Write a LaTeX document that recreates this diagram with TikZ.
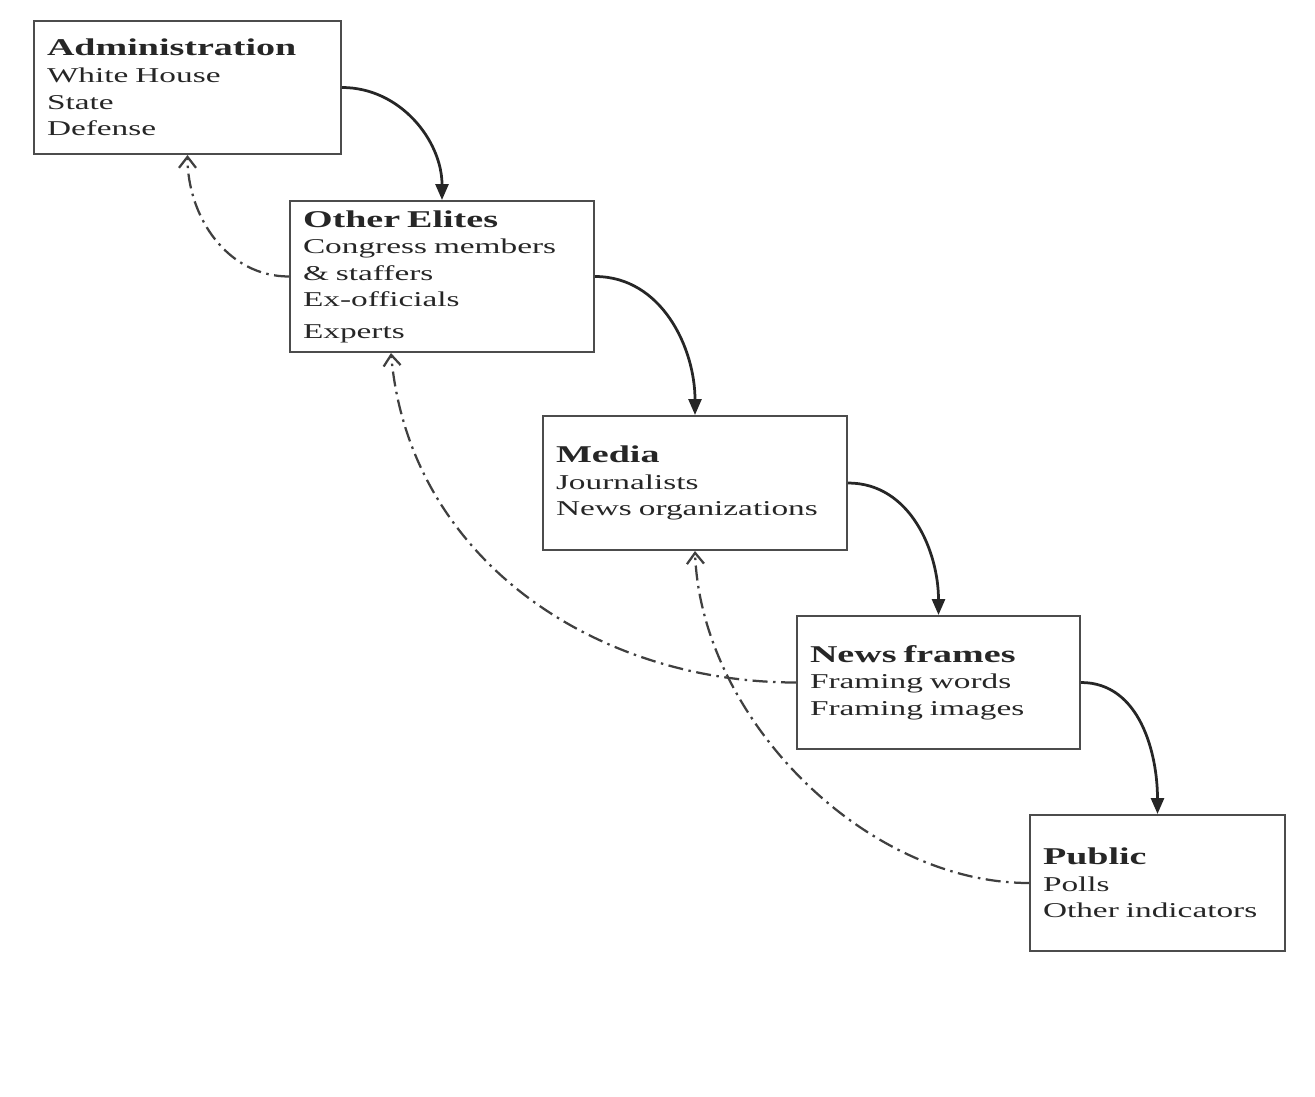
\documentclass[tikz,border=0pt]{standalone}
\usepackage{fontspec}
\setmainfont{Liberation Serif}[FakeStretch=1.58]
\usetikzlibrary{arrows.meta}

\newcommand{\boxtitle}[1]{{\fontsize{13.7}{15.1}\selectfont\bfseries #1}}

\tikzset{
    actor/.style={draw=black!70, line width=0.4mm, rectangle, anchor=north west,
        inner xsep=2.6mm, inner ysep=0pt, align=left, text=black!85,
        font=\fontsize{12}{15.1}\selectfont},
    flow/.style={-{Triangle[length=3.2mm,width=2.6mm]}, line width=0.55mm, black!85},
    feedback/.style={-{Straight Barb[length=2.2mm,width=3.4mm]}, line width=0.45mm, black!75,
        dash pattern=on 3mm off 1.1mm on 0.5mm off 1.1mm}
}

\begin{document}
\begin{tikzpicture}[x=0.2mm,y=-0.2mm]

    \useasboundingbox (0,0) rectangle (1315,1097);

    %% Boxes
    % Administration
    \node[actor, text width=56.2mm, minimum height=26.6mm] (admin) at (33,20)
        {\boxtitle{Administration}\\White House\\State\\Defense};

    % Other elites
    \node[actor, text width=55.6mm, minimum height=30.2mm] (elites) at (289,200)
        {\boxtitle{Other Elites}\\Congress members\\\& staffers\\Ex-officials\\[1mm]Experts};

    % Media
    \node[actor, text width=55.6mm, minimum height=26.8mm] (media) at (542,415)
        {\boxtitle{Media}\\Journalists\\News organizations};

    % News frames
    \node[actor, text width=51.4mm, minimum height=26.6mm] (frames) at (796,615)
        {\boxtitle{News frames}\\Framing words\\Framing images};

    % Public
    \node[actor, text width=45.8mm, minimum height=27.2mm] (public) at (1029,814)
        {\boxtitle{Public}\\Polls\\Other indicators};

    %% Cascade down
    \draw[flow] (admin.east) to[out=0, in=90] (elites.north);
    \draw[flow] (elites.east) to[out=0, in=90] (media.north);
    \draw[flow] (media.east) to[out=0, in=90] (frames.north);
    \draw[flow] (frames.east) to[out=0, in=90] (public.north);

    %% Feedback up
    \draw[feedback] (elites.west) to[out=180, in=-90] (admin.south);
    \draw[feedback] (frames.west) to[out=180, in=-85] ([xshift=-10.2mm]elites.south);
    \draw[feedback] (public.west) to[out=180, in=-88, looseness=0.9] (media.south);

\end{tikzpicture}
\end{document}
